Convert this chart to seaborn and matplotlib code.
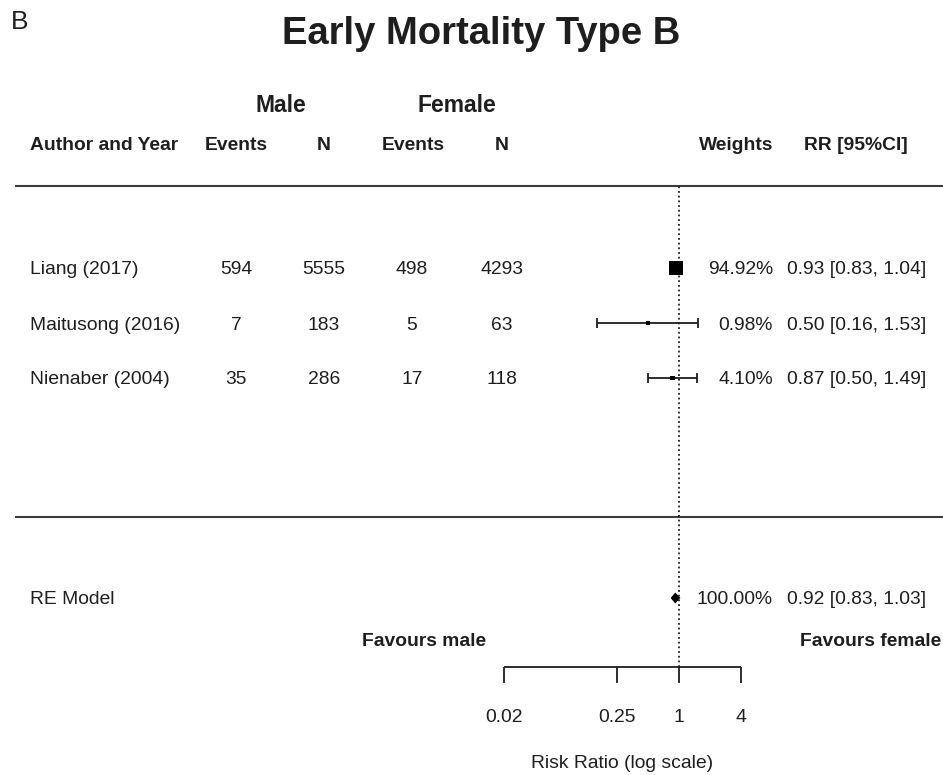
import numpy as np
import pandas as pd
import matplotlib.pyplot as plt
import matplotlib.transforms as mtransforms
import seaborn as sns

# ----------------------------------------------------------------------
# data
# ----------------------------------------------------------------------
authors = ["Liang (2017)", "Maitusong (2016)", "Nienaber (2004)"]
male_events = [594, 7, 35]
male_n = [5555, 183, 286]
female_events = [498, 5, 17]
female_n = [4293, 63, 118]
rr = [0.93, 0.50, 0.87]
ci_lo = [0.83, 0.16, 0.50]
ci_hi = [1.04, 1.53, 1.49]
weights = [94.92, 0.98, 4.10]

re_label = "RE Model"
re_rr, re_lo, re_hi, re_weight = 0.92, 0.83, 1.03, 100.00

ticks = [0.02, 0.25, 1, 4]
tick_labels = ["0.02", "0.25", "1", "4"]

rows = [3, 2, 1]
re_row = -3

df = pd.DataFrame({"author": authors, "rr": rr, "lo": ci_lo, "hi": ci_hi,
                   "weight": weights, "row": rows})

# ----------------------------------------------------------------------
# layout
# ----------------------------------------------------------------------
sns.set_theme(style="white")
plt.rcParams["font.family"] = ["Liberation Sans", "DejaVu Sans"]

W, H = 943, 775
PX_PER_LN = 44.7   # pixels per unit of ln(RR)
X_REF = 679        # pixel of RR = 1
ROW_PX = 55        # pixels per row
Y_ROW0 = 433       # pixel of row 0

TXT = "#1e1e1e"
LINE = "#3c3c3c"
FS = 13.9
DY = -2 / ROW_PX   # text sits a touch lower than the marks

fig = plt.figure(figsize=(W / 100, H / 100), dpi=100)
ax = fig.add_axes([0, 0, 1, 1])
ax.set_xscale("log")
ax.set_xlim(np.exp(-X_REF / PX_PER_LN), np.exp((W - X_REF) / PX_PER_LN))
ax.set_ylim((Y_ROW0 - H) / ROW_PX, Y_ROW0 / ROW_PX)
ax.axis("off")


def fx(px):
    return px / W


def ry(py):
    return (Y_ROW0 - py) / ROW_PX


tr = mtransforms.blended_transform_factory(ax.transAxes, ax.transData)

# title + panel letter
fig.text(fx(481), 1 - 44 / H, "Early Mortality Type B", ha="center",
         va="baseline", fontsize=27.5, fontweight="bold", color=TXT)
fig.text(fx(11), 1 - 29 / H, "B", ha="left", va="baseline", fontsize=19, color=TXT)

# column headers
ax.text(fx(281), ry(106), "Male", transform=tr, ha="center", va="center",
        fontsize=16.5, fontweight="bold", color=TXT)
ax.text(fx(457), ry(106), "Female", transform=tr, ha="center", va="center",
        fontsize=16.5, fontweight="bold", color=TXT)
hdr = dict(transform=tr, va="center", fontsize=FS, fontweight="bold", color=TXT)
ax.text(fx(30), ry(146), "Author and Year", ha="left", **hdr)
ax.text(fx(236), ry(146), "Events", ha="center", **hdr)
ax.text(fx(324), ry(146), "N", ha="center", **hdr)
ax.text(fx(413), ry(146), "Events", ha="center", **hdr)
ax.text(fx(502), ry(146), "N", ha="center", **hdr)
ax.text(fx(773), ry(146), "Weights", ha="right", **hdr)
ax.text(fx(856), ry(146), "RR [95%CI]", ha="center", **hdr)

# separators
for py in (186, 517):
    ax.plot([fx(15), 1], [ry(py), ry(py)], transform=tr, color=LINE, lw=1.5,
            solid_capstyle="butt")

# reference line at RR = 1
ax.vlines(1, ry(667), ry(186), color=TXT, lw=1.3, linestyles=(0, (1, 1.6)))

# study rows
body = dict(transform=tr, va="center", fontsize=FS, color=TXT)
for i in range(len(authors)):
    y = rows[i] + DY
    ax.text(fx(30), y, authors[i], ha="left", **body)
    ax.text(fx(236), y, str(male_events[i]), ha="center", **body)
    ax.text(fx(324), y, str(male_n[i]), ha="center", **body)
    ax.text(fx(412), y, str(female_events[i]), ha="center", **body)
    ax.text(fx(502), y, str(female_n[i]), ha="center", **body)
    ax.text(fx(773), y, f"{weights[i]:.2f}%", ha="right", **body)
    ax.text(fx(857), y, f"{rr[i]:.2f} [{ci_lo[i]:.2f}, {ci_hi[i]:.2f}]",
            ha="center", **body)

# confidence intervals with end caps
cap = 0.09
ax.hlines(df["row"], df["lo"], df["hi"], color=TXT, lw=1.3)
ax.vlines(df["lo"], df["row"] - cap, df["row"] + cap, color=TXT, lw=1.3)
ax.vlines(df["hi"], df["row"] - cap, df["row"] + cap, color=TXT, lw=1.3)

# point estimates, sized by weight
sns.scatterplot(data=df, x="rr", y="row", size="weight", sizes=(10, 95),
                marker="s", color="black", linewidth=0, legend=False, ax=ax,
                zorder=3)
ax.set_xlabel("")
ax.set_ylabel("")

# summary (RE model)
ax.text(fx(30), re_row + DY, re_label, ha="left", **body)
ax.fill([re_lo, re_rr, re_hi, re_rr],
        [re_row, re_row + 0.1, re_row, re_row - 0.1], color="black", lw=0)
ax.text(fx(773), re_row + DY, f"{re_weight:.2f}%", ha="right", **body)
ax.text(fx(857), re_row + DY, f"{re_rr:.2f} [{re_lo:.2f}, {re_hi:.2f}]",
        ha="center", **body)

# favours labels
ax.text(fx(486), ry(642), "Favours male", transform=tr, ha="right", va="center",
        fontsize=FS, fontweight="bold", color=TXT)
ax.text(fx(941), ry(642), "Favours female", transform=tr, ha="right", va="center",
        fontsize=FS, fontweight="bold", color=TXT)

# x axis
ax.hlines(ry(667), ticks[0], ticks[-1], color=TXT, lw=1.3)
ax.vlines(ticks, ry(683), ry(667), color=TXT, lw=1.3)
for t, lab in zip(ticks, tick_labels):
    ax.text(t, ry(717), lab, ha="center", va="center", fontsize=FS, color=TXT)
ax.text(np.sqrt(ticks[0] * ticks[-1]), ry(763), "Risk Ratio (log scale)",
        ha="center", va="center", fontsize=FS, color=TXT)

fig.savefig("out.png", dpi=100)
